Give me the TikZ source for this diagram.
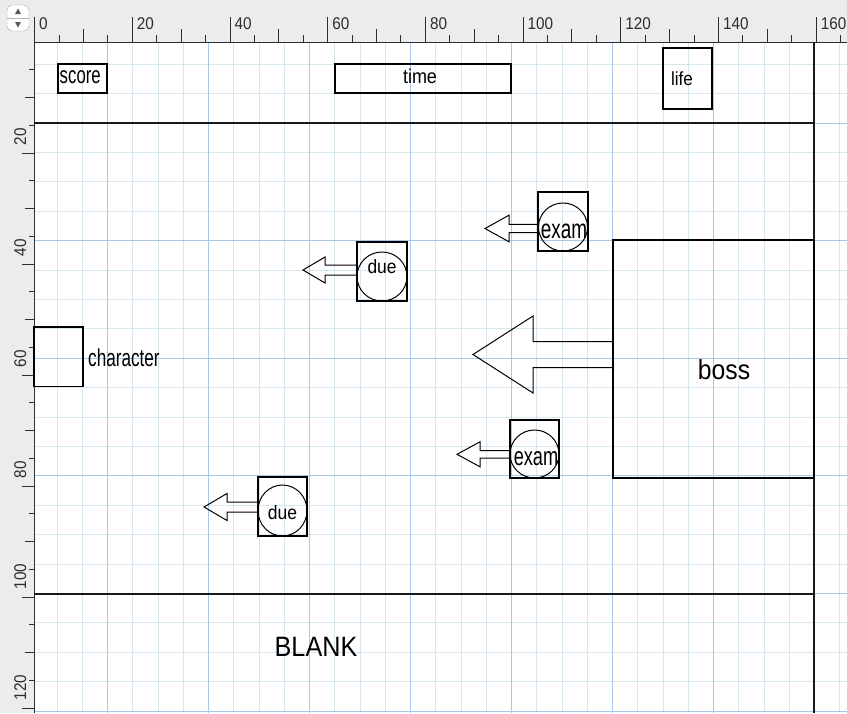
\documentclass[tikz,border=0pt]{standalone}
\usepackage{fontspec}
\setmainfont{Liberation Sans}
\newfontfamily\narrowfont{Liberation Sans}[FakeStretch=0.7]
\newfontfamily\widefont{Liberation Sans}[FakeStretch=0.9]
\usepackage{tikz}
\usetikzlibrary{shapes.geometric,calc}
\usepackage{xcolor}

\definecolor{rulerbg}{HTML}{ECECEC}
\definecolor{gridlight}{HTML}{D7E7F0}
\definecolor{gridblue}{HTML}{A9C7EA}
\definecolor{inkgray}{HTML}{2E2E2E}

\newcommand{\blockarrow}[5]{%
  \draw[line width=1pt] (#1) -- ++(0,-#3) -- ++(-#2+#5,0) -- ++(0,-#4+#3)
    -- ++(-#5,#4) -- ++(#5,#4) -- ++(0,-#4+#3) -- ++(#2-#5,0) -- cycle;}

\begin{document}
\begin{tikzpicture}[x=1pt, y=-1pt,
    box/.style={draw, line width=1.1pt, inner sep=0pt, outer sep=0pt},
    bubble/.style={draw, ellipse, line width=1pt, inner sep=0pt, outer sep=0pt},
    lbl/.style={inner sep=0pt, anchor=base},
    narrow/.style={font=\narrowfont\fontsize{#1}{#1}\selectfont},
    wide/.style={font=\widefont\fontsize{#1}{#1}\selectfont},
    rulerlbl/.style={inner sep=0pt, text=inkgray, font=\widefont\fontsize{17}{17}\selectfont},
    frame/.style={line width=1.2pt, black!90}]
\useasboundingbox (0,0) rectangle (847,713);
\fill[rulerbg] (0,0) rectangle (847,713);
\fill[white] (34,42) rectangle (847,713);

\foreach \k in {-2,...,29}
  \draw[gridlight, line width=0.9pt] ({107.5+25.25*\k},42) -- ({107.5+25.25*\k},713);
\foreach \k in {-2,...,20}
  \draw[gridlight, line width=0.9pt] (34,{123.1+29.4*\k}) -- (847,{123.1+29.4*\k});
\foreach \k in {0,...,6}
  \draw[gridblue, line width=1pt] ({107.5+101*\k},42) -- ({107.5+101*\k},713);
\foreach \k in {0,...,5}
  \draw[gridblue, line width=1pt] (34,{123.1+117.6*\k}) -- (847,{123.1+117.6*\k});

\draw[inkgray, line width=1pt] (34,713) -- (34,42) -- (847,42);
\foreach \u in {0,5,...,165}{
  \pgfmathsetmacro{\ttop}{mod(\u,20)==0 ? 17 : (mod(\u,10)==0 ? 29 : 35)}
  \draw[inkgray, line width=0.8pt] ({34.5+4.885*\u},\ttop) -- ({34.5+4.885*\u},42);
}
\foreach \u in {5,10,...,120}{
  \pgfmathsetmacro{\tleft}{mod(\u,20)==0 ? 22 : (mod(\u,10)==0 ? 25 : 29)}
  \draw[inkgray, line width=0.8pt] (\tleft,{42+5.55*\u}) -- (34,{42+5.55*\u});
}
\foreach \u in {0,20,...,160}
  \node[rulerlbl, anchor=base west] (xl\u) at ({34.5+4.885*\u+4.5},29) {\u};
\foreach \u in {20,40,...,120}
  \node[rulerlbl, rotate=90, anchor=base west] (yl\u) at (26,{42+5.55*\u-7.5}) {\u};

\draw[fill=white, draw=gray!70, rounded corners=5pt] (7,5) rectangle (29,31);
\draw[gray!60] (7,18) -- (29,18);
\fill[inkgray!80] (15,14) -- (21,14) -- (18,8.5) -- cycle;
\fill[inkgray!80] (15,22) -- (21,22) -- (18,27.5) -- cycle;

\draw[frame] (34,123) -- (814,123);
\draw[frame] (34,594) -- (814,594);
\draw[frame] (814,42) -- (814,713);

\node[box, minimum width=49pt, minimum height=29pt] (score) at (82.5,78.5) {};
\node[lbl, narrow=24, anchor=base west] (scorelbl) at (59.5,83.3) {score};
\node[box, minimum width=176pt, minimum height=29pt] (time) at (423,78.5) {};
\node[lbl, wide=20] (timelbl) at (420,83.5) {time};
\node[box, minimum width=49pt, minimum height=61pt] (life) at (687.5,78.5) {};
\node[lbl, wide=19] (lifelbl) at (682,85) {life};

\node[box, minimum width=49pt, minimum height=59.5pt] (character) at (58.5,356.75) {};
\node[lbl, narrow=24.5, anchor=base west] (characterlbl) at (88,366.7) {character};

\node[box, minimum width=201pt, minimum height=238pt] (boss) at (713.5,359) {};
\node[lbl, wide=27.5] (bosslbl) at (724,379.3) {boss};

\node[box, minimum width=50pt, minimum height=59pt] (exam1) at (563,221.5) {};
\node[bubble, minimum width=49pt, minimum height=48pt] (exambub1) at (563,227) {};
\node[lbl, narrow=27] (examlbl1) at (564,238.3) {exam};

\node[box, minimum width=50pt, minimum height=59pt] (due1) at (382,271.5) {};
\node[bubble, minimum width=50pt, minimum height=49pt] (duebub1) at (382,276.5) {};
\node[lbl, wide=19.3] (duelbl1) at (382,273.3) {due};

\node[box, minimum width=49pt, minimum height=58pt] (exam2) at (534.5,449) {};
\node[bubble, minimum width=49pt, minimum height=48pt] (exambub2) at (534.5,454) {};
\node[lbl, narrow=26] (examlbl2) at (536,465.7) {exam};

\node[box, minimum width=49pt, minimum height=59pt] (due2) at (282.5,506.5) {};
\node[bubble, minimum width=49pt, minimum height=51pt] (duebub2) at (282.5,510.5) {};
\node[lbl, wide=19.5] (duelbl2) at (282.5,519.3) {due};

\coordinate (bosstail) at ($(boss.west)+(0,-4.5)$);
\coordinate (examtail1) at ($(exam1.west)+(0,7)$);
\coordinate (duetail1) at ($(due1.west)+(0,-1.5)$);
\coordinate (examtail2) at ($(exam2.west)+(0,5.3)$);
\coordinate (duetail2) at ($(due2.west)+(0,0.5)$);
\blockarrow{bosstail}{140}{13}{38.5}{60}
\blockarrow{examtail1}{53}{4.2}{13.3}{24}
\blockarrow{duetail1}{54}{5}{13}{22}
\blockarrow{examtail2}{53}{3.8}{12.5}{23}
\blockarrow{duetail2}{54}{5}{13.5}{23}

\node[lbl, wide=28] (blank) at (316,656.7) {BLANK};
\end{tikzpicture}
\end{document}
